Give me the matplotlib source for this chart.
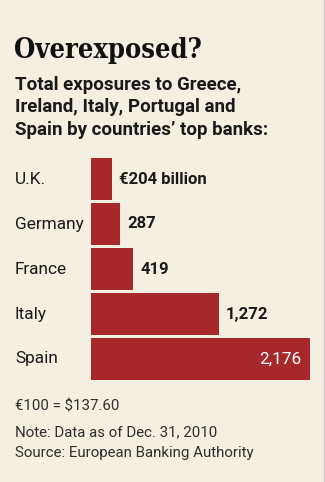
import matplotlib
matplotlib.use("Agg")
import matplotlib.pyplot as plt
import matplotlib.transforms as mtransforms

# data
countries = ['U.K.', 'Germany', 'France', 'Italy', 'Spain']
exposure = [204, 287, 419, 1272, 2176]
value_labels = ['€204 billion', '287', '419', '1,272', '2,176']

W, H = 325, 482
bg = '#f4efe1'
bar_color = '#a6282a'
ink = '#1a1a1a'


def fx(px):
    return px / W


def fy(py):
    return 1 - py / H


fig = plt.figure(figsize=(W / 100, H / 100), dpi=100, facecolor=bg)

# title block
fig.text(fx(14), fy(58), 'Overexposed?', family=['DejaVu Serif'], fontstretch='condensed',
         weight='heavy', size=19.5, color='#111111', va='baseline')
subtitle = ['Total exposures to Greece,',
            'Ireland, Italy, Portugal and',
            'Spain by countries\u2019 top banks:']
for line, base in zip(subtitle, [90.5, 112.5, 135]):
    fig.text(fx(15), fy(base), line, family=['Roboto'], weight='bold', size=13.5,
             color=ink, va='baseline')

# bars
ax = fig.add_axes([fx(91), fy(381.5), fx(219), 225 / H])
ax.set_facecolor(bg)
y = list(range(len(countries)))
ax.barh(y, exposure, height=0.93, color=bar_color)
ax.set_xlim(0, max(exposure))
ax.set_ylim(len(countries) - 0.5, -0.5)
ax.axis('off')

trans = mtransforms.blended_transform_factory(fig.transFigure, ax.transData)
for i, name in enumerate(countries):
    ax.text(fx(15), i, name, transform=trans, family=['Roboto'], size=12.4,
            color=ink, va='center')

for i, (v, lab) in enumerate(zip(exposure, value_labels)):
    if i == len(exposure) - 1:
        ax.annotate(lab, (v, i), xytext=(-8, 0), textcoords='offset pixels',
                    ha='right', va='center', family=['Roboto'], size=12.4, color='white')
    else:
        ax.annotate(lab, (v, i), xytext=(7, 0), textcoords='offset pixels',
                    ha='left', va='center', family=['Roboto'], weight='bold',
                    size=12, color=ink)

# footer
notes = ['€100 = $137.60', 'Note: Data as of Dec. 31, 2010', 'Source: European Banking Authority']
for line, base in zip(notes, [411, 436, 457]):
    fig.text(fx(15), fy(base), line, family=['Roboto'], size=10.8, color='#2e2e2e',
             va='baseline')

# thin frame line at right edge
fig.add_artist(plt.Line2D([fx(323.5), fx(323.5)], [0, 1], color='#c8c8c8', lw=1))

fig.savefig('out.png', dpi=100, facecolor=bg)
